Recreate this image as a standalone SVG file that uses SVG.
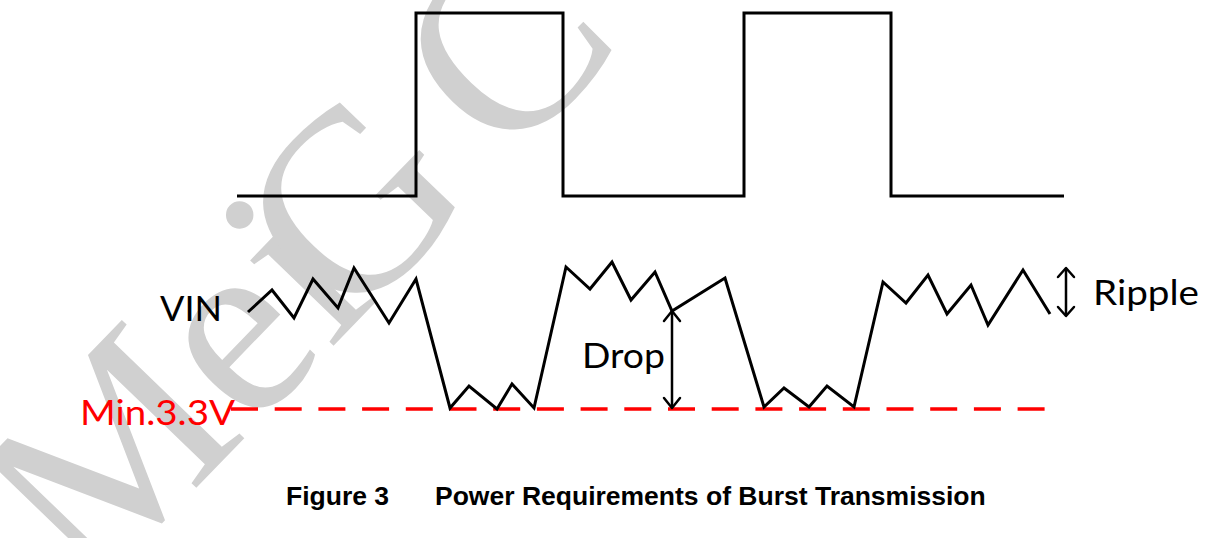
<svg xmlns="http://www.w3.org/2000/svg" width="1206" height="538" viewBox="0 0 1206 538">
  <style>
    .wave { fill: none; stroke: #000; stroke-width: 3; stroke-linejoin: miter; stroke-linecap: butt; }
    .arrow { fill: none; stroke: #000; stroke-width: 2.5; stroke-linecap: round; stroke-linejoin: round; }
    .lbl { font-family: Lato, "Noto Sans", "Liberation Sans", sans-serif; font-size: 35px; fill: #000; }
    .red { fill: #ff0000; }
    .cap { font-family: "Liberation Sans", Arial, sans-serif; font-weight: bold; font-size: 26.5px; fill: #000; }
    .wm { font-family: "Liberation Serif", "Times New Roman", serif; font-size: 260px; fill: #d0d0d0; }
  </style>
  <rect width="1206" height="538" fill="#fff"/>
  <g id="watermark">
    <text class="wm" x="89" y="599" dx="0 0 0 -46 0 -26" transform="rotate(-46 89 599)">MeiG C</text>
  </g>
  <g id="burst-signal">
    <path class="wave" d="M237,196 H416 V13 H563 V196 H744 V13 H891 V196 H1064"/>
  </g>
  <g id="min-line">
    <line x1="231" y1="409" x2="1045" y2="409" stroke="#ff0000" stroke-width="3.5" stroke-dasharray="27 16.7"/>
  </g>
  <g id="vin-wave">
    <polyline class="wave" points="248,312 272,290 294,318 313,279 338,308 354,268 389,323 416,279 450,408 469,386 497,409 512,384 534,408 566,267 590,289 612,262 631,300 655,272 672,311 725,278 764,407 784,388 809,407 827,386 854,407 883,282 906,303 928,275 947,314 971,285 988,325 1023,270 1050,314"/>
  </g>
  <g id="connectors">
    <g id="drop-arrow">
      <line class="arrow" x1="672" y1="312" x2="672" y2="407"/>
      <polyline class="arrow" points="664,321 672,311 680,321"/>
      <polyline class="arrow" points="664,398 672,408 680,398"/>
    </g>
    <g id="ripple-arrow">
      <line class="arrow" x1="1066" y1="269" x2="1066" y2="315"/>
      <polyline class="arrow" points="1058,277 1066,268 1074,277"/>
      <polyline class="arrow" points="1058,307 1066,316 1074,307"/>
    </g>
  </g>
  <g id="labels">
    <text class="lbl" x="160" y="321" textLength="62" lengthAdjust="spacingAndGlyphs">VIN</text>
    <text class="lbl" x="582" y="368" textLength="83" lengthAdjust="spacingAndGlyphs">Drop</text>
    <text class="lbl" x="1093" y="305" textLength="106" lengthAdjust="spacingAndGlyphs">Ripple</text>
    <text class="lbl red" x="80" y="425" font-size="36" textLength="155" lengthAdjust="spacingAndGlyphs">Min.3.3V</text>
  </g>
  <g id="caption">
    <text class="cap" x="286" y="505">Figure 3</text>
    <text class="cap" x="435" y="505">Power Requirements of Burst Transmission</text>
  </g>
</svg>
